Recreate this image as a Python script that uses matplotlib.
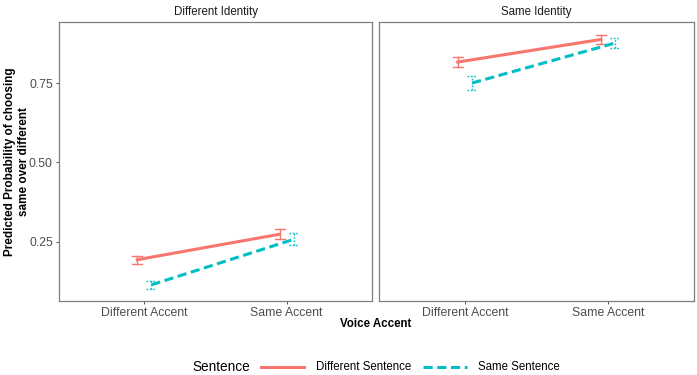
import matplotlib
matplotlib.use("Agg")
import matplotlib.pyplot as plt
from matplotlib.lines import Line2D

plt.rcParams["font.family"] = ["Liberation Sans", "DejaVu Sans"]

categories = ["Different Accent", "Same Accent"]
panels = ["Different Identity", "Same Identity"]
series = ["Different Sentence", "Same Sentence"]
# values[panel][series] -> per category
values = {
    "Different Identity": {"Different Sentence": [0.194, 0.274], "Same Sentence": [0.115, 0.258]},
    "Same Identity": {"Different Sentence": [0.816, 0.887], "Same Sentence": [0.750, 0.876]},
}
errors = {
    "Different Identity": {"Different Sentence": [0.012, 0.016], "Same Sentence": [0.012, 0.019]},
    "Same Identity": {"Different Sentence": [0.016, 0.015], "Same Sentence": [0.021, 0.017]},
}
yticks = [0.25, 0.50, 0.75]

colors = {"Different Sentence": "#F8766D", "Same Sentence": "#00BFC4"}
styles = {"Different Sentence": "-", "Same Sentence": (0, (3, 1.5))}
errstyles = {"Different Sentence": "-", "Same Sentence": (0, (1.2, 1.2))}
dodge = {"Different Sentence": -0.05, "Same Sentence": 0.05}
capw = 0.035
fs = 8.3

W, H = 697, 375
fig = plt.figure(figsize=(W / 100, H / 100), dpi=100)

def px_axes(x0, y0, x1, y1):
    return fig.add_axes([x0 / W, 1 - y1 / H, (x1 - x0) / W, (y1 - y0) / H])

boxes = [(59, 22, 372, 301), (379, 22, 694, 301)]
ylim = (0.064, 0.942)
for i, (panel, box) in enumerate(zip(panels, boxes)):
    ax = px_axes(*box)
    for s in series:
        xs = [k + 1 + dodge[s] for k in range(len(categories))]
        ys = values[panel][s]
        es = errors[panel][s]
        ax.plot(xs, ys, color=colors[s], linestyle=styles[s], lw=2.2, zorder=3)
        for x, y, e in zip(xs, ys, es):
            kw = dict(color=colors[s], linestyle=errstyles[s], lw=1.0, zorder=2)
            ax.plot([x, x], [y - e, y + e], **kw)
            ax.plot([x - capw, x + capw], [y - e, y - e], **kw)
            ax.plot([x - capw, x + capw], [y + e, y + e], **kw)
    ax.set_xlim(0.4, 2.6)
    ax.set_ylim(*ylim)
    ax.set_xticks([1, 2])
    ax.set_xticklabels(categories, fontsize=fs + 0.5, color="#4D4D4D")
    ax.set_yticks(yticks)
    if i == 0:
        ax.set_yticklabels([f"{v:.2f}" for v in yticks], fontsize=fs + 0.5, color="#4D4D4D")
    else:
        ax.tick_params(axis="y", left=False, labelleft=False)
    ax.tick_params(axis="both", length=2.5, width=0.6, color="#333333", pad=2)
    for sp in ax.spines.values():
        sp.set_color("#7F7F7F")
        sp.set_linewidth(0.9)
    ax.set_title(panel, fontsize=fs, color="#1A1A1A", pad=5)

fig.text(376 / W, 1 - 324 / H, "Voice Accent", ha="center", va="center",
         fontsize=fs, fontweight="bold")
fig.text(17 / W, 1 - 162 / H, "Predicted Probability of choosing\nsame over different",
         ha="center", va="center", rotation=90, fontsize=fs + 0.2, fontweight="bold",
         linespacing=1.2)

# legend, drawn manually at the bottom
ly = 1 - 367 / H
fig.text(192 / W, ly, "Sentence", ha="left", va="center", fontsize=9.8)
for s, (x0, x1, tx) in zip(series, [(261, 304, 316), (423, 467, 478)]):
    fig.add_artist(Line2D([x0 / W, x1 / W], [ly, ly], color=colors[s],
                          linestyle=styles[s], lw=2.2, transform=fig.transFigure))
    fig.text(tx / W, ly, s, ha="left", va="center", fontsize=fs)

fig.savefig("out.png", dpi=100)
